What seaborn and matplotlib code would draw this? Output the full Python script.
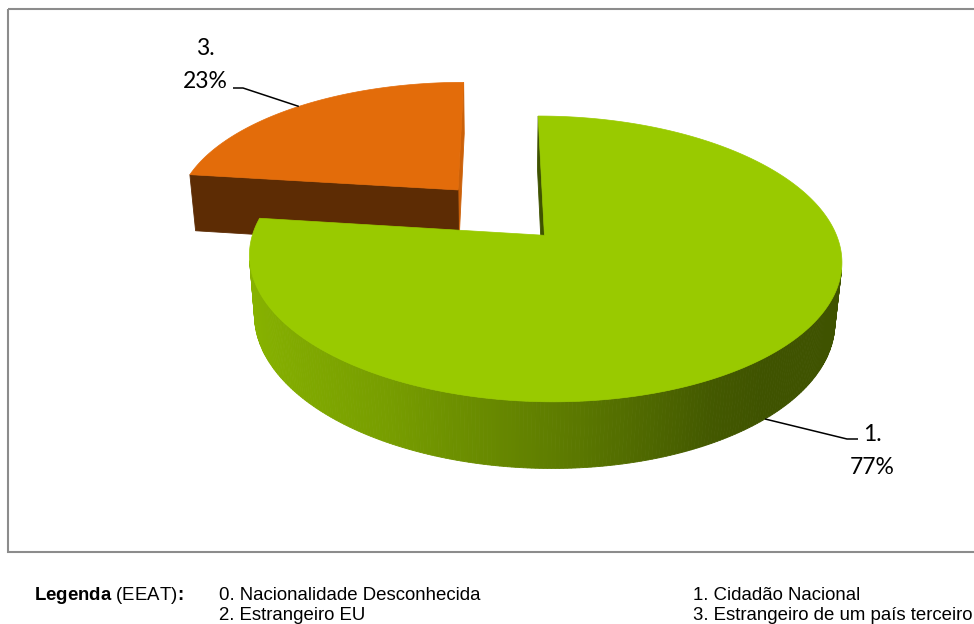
import numpy as np
import pandas as pd
import matplotlib
matplotlib.use("Agg")
import matplotlib.pyplot as plt
import seaborn as sns
from matplotlib.patches import Polygon, Rectangle
from matplotlib.colors import to_rgb

# ---------------- data ----------------
categories = ["1.", "3."]
values = [77, 23]
pct_labels = ["77%", "23%"]
slice_colors = ["#99CA00", "#E36C0A"]
legend_title_bold = "Legenda"
legend_title_rest = " (EEAT)"
legend_items = ["0. Nacionalidade Desconhecida", "1. Cidadão Nacional",
                "2. Estrangeiro EU", "3. Estrangeiro de um país terceiro"]

df = pd.DataFrame({"label": categories, "val": values, "pct": pct_labels, "color": slice_colors})

sns.set_theme(style="white")
plt.rcParams['font.family'] = ['Lato', 'DejaVu Sans']
plt.rcParams['mathtext.fontset'] = 'custom'
plt.rcParams['mathtext.rm'] = 'Liberation Sans'
plt.rcParams['mathtext.bf'] = 'Liberation Sans:bold'

W, Hpx = 974, 624
fig = plt.figure(figsize=(W / 100, Hpx / 100), dpi=100)
ax = fig.add_axes([0, 0, 1, 1])
ax.set_xlim(0, W)
ax.set_ylim(Hpx, 0)
ax.axis("off")

# ---------------- 3-D projection ----------------
SCALE = 284.0
ELEV = np.arcsin(131.4 / SCALE)
FOC = 5.52
CX, CY = 500.0, 212.0
THICK = 0.235
EXPLODE = 0.23
ce, se = np.cos(ELEV), np.sin(ELEV)
CAM = np.array([0.0, -FOC * ce, FOC * se])


def proj(x, y, z):
    x = np.asarray(x, float); y = np.asarray(y, float); z = np.asarray(z, float)
    D = y * ce - z * se
    s = FOC / (FOC + D)
    yv = y * se + z * ce
    return CX + SCALE * x * s, CY - SCALE * yv * s


def depth(y, z):
    return y * ce - z * se


def shade(color, f):
    r, g, b = to_rgb(color)
    return (min(r * f, 1), min(g * f, 1), min(b * f, 1))


def wall_factor(c):
    return np.interp(c, [-1, -0.48, 0, 0.47, 0.65], [0.89, 0.78, 0.62, 0.44, 0.41])


fr = df["val"].to_numpy(float) / df["val"].sum()
starts = 90 - 360 * np.concatenate([[0], np.cumsum(fr)[:-1]])
ends = starts - 360 * fr
df["a0"], df["a1"] = starts, ends
df["mid"] = (starts + ends) / 2
df["ox"] = EXPLODE * np.cos(np.radians(df["mid"]))
df["oy"] = EXPLODE * np.sin(np.radians(df["mid"]))

order = df.sort_values("oy", ascending=False).index
z_counter = [10]


def add_poly(xs, ys, fc, ec=None, lw=0.6):
    pts = np.column_stack([xs, ys])
    ax.add_patch(Polygon(pts, closed=True, facecolor=fc,
                         edgecolor=fc if ec is None else ec, lw=lw,
                         zorder=z_counter[0]))
    z_counter[0] += 0.001


for i in order:
    row = df.loc[i]
    ox, oy, col = row["ox"], row["oy"], row["color"]
    a0, a1 = np.radians(row["a0"]), np.radians(row["a1"])
    n = max(int(abs(row["a0"] - row["a1"]) * 1.5), 10)
    th = np.linspace(a0, a1, n)
    faces = []
    for j in range(n - 1):
        tm = 0.5 * (th[j] + th[j + 1])
        p = np.array([ox + np.cos(tm), oy + np.sin(tm), -THICK / 2])
        nrm = np.array([np.cos(tm), np.sin(tm), 0])
        if nrm @ (CAM - p) <= 0:
            continue
        xs = [ox + np.cos(th[j]), ox + np.cos(th[j + 1]), ox + np.cos(th[j + 1]), ox + np.cos(th[j])]
        ys = [oy + np.sin(th[j]), oy + np.sin(th[j + 1]), oy + np.sin(th[j + 1]), oy + np.sin(th[j])]
        zs = [0, 0, -THICK, -THICK]
        faces.append((depth(p[1], p[2]), xs, ys, zs, shade(col, wall_factor(np.cos(tm)))))
    for a, nrm2 in [(a0, (-np.sin(a0), np.cos(a0))), (a1, (np.sin(a1), -np.cos(a1)))]:
        p = np.array([ox + 0.5 * np.cos(a), oy + 0.5 * np.sin(a), -THICK / 2])
        nrm = np.array([nrm2[0], nrm2[1], 0])
        if nrm @ (CAM - p) <= 0:
            continue
        xs = [ox, ox + np.cos(a), ox + np.cos(a), ox]
        ys = [oy, oy + np.sin(a), oy + np.sin(a), oy]
        zs = [0, 0, -THICK, -THICK]
        fcol = shade(col, 0.9 if nrm2[0] > 0.5 else 0.41)
        faces.append((depth(p[1], p[2]) + 5, xs, ys, zs, fcol))
    faces.sort(key=lambda t: -t[0])
    for _, xs, ys, zs, fc in faces:
        sx, sy = proj(xs, ys, zs)
        add_poly(sx, sy, fc)
    tx = np.concatenate([[ox], ox + np.cos(th)])
    ty = np.concatenate([[oy], oy + np.sin(th)])
    sx, sy = proj(tx, ty, np.zeros_like(tx))
    add_poly(sx, sy, col, lw=0.5)

# ---------------- data labels with leader lines ----------------
label_layout = {"1.": dict(text=(872, 451), elbow=(847, 439), end=(858, 439), z=-THICK),
                "3.": dict(text=(205, 65), elbow=(243, 88), end=(233, 88), z=0.0)}
for _, row in df.iterrows():
    lay = label_layout[row["label"]]
    m = np.radians(row["mid"])
    axp, ayp = proj(row["ox"] + np.cos(m), row["oy"] + np.sin(m), lay["z"])
    ax.plot([float(axp), lay["elbow"][0], lay["end"][0]],
            [float(ayp), lay["elbow"][1], lay["end"][1]],
            color="black", lw=1.1, zorder=50, solid_capstyle="butt")
    ax.text(lay["text"][0], lay["text"][1], f"{row['label']}\n{row['pct']}", ha="center", va="center",
            multialignment="center", fontsize=16.5, linespacing=1.65, color="black", zorder=51)

# ---------------- frame ----------------
ax.add_patch(Rectangle((7.5, 8.5), 990, 543, fill=False, edgecolor="#8c8c8c", lw=1.5,
                       clip_on=False, zorder=60))

# ---------------- legend text ----------------
lfont = ['Liberation Sans', 'DejaVu Sans']
lsize = 13.4
title = r"$\mathbf{" + legend_title_bold + r"}$" + legend_title_rest + r"$\!\mathbf{:}$"
ax.text(34.5, 595.5, title, fontsize=lsize, family=lfont, va="center", ha="left", color="black")
leg_pos = [(219, 595.5), (693, 595.5), (219, 615), (693, 615)]
for txt, (lx, ly) in zip(legend_items, leg_pos):
    ax.text(lx, ly, txt, fontsize=lsize, family=lfont, va="center", ha="left", color="black")

fig.savefig("out.png", dpi=100)
